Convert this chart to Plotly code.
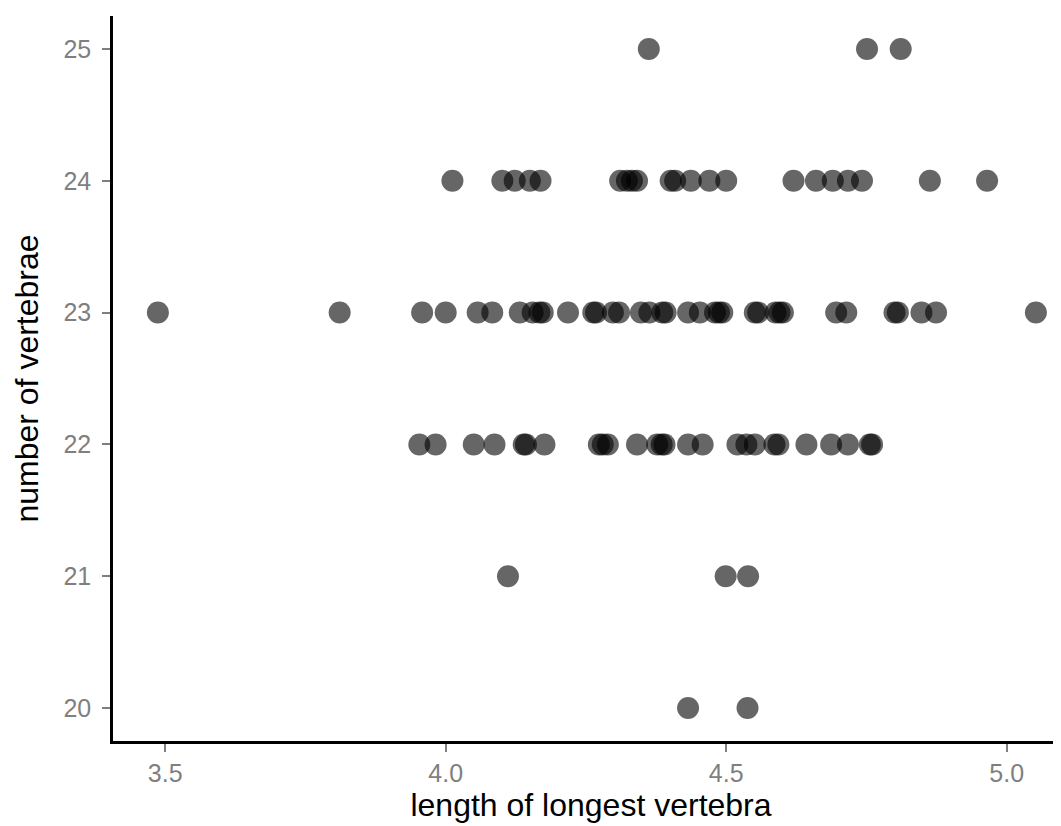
import plotly.graph_objects as go

# length of longest vertebra, grouped by number of vertebrae
len_25 = [4.362, 4.751, 4.811]
len_24 = [4.012, 4.101, 4.123, 4.150, 4.169, 4.311, 4.323, 4.332, 4.341,
          4.401, 4.409, 4.437, 4.470, 4.500, 4.620, 4.660, 4.690, 4.717,
          4.742, 4.863, 4.965]
len_23 = [3.487, 3.811, 3.958, 4.000, 4.057, 4.083, 4.132, 4.155, 4.167,
          4.173, 4.218, 4.263, 4.268, 4.298, 4.309, 4.348, 4.363, 4.386,
          4.392, 4.432, 4.453, 4.480, 4.487, 4.493, 4.551, 4.557, 4.588,
          4.595, 4.601, 4.696, 4.714, 4.800, 4.806, 4.848, 4.874, 5.052]
len_22 = [3.953, 3.982, 4.050, 4.087, 4.139, 4.143, 4.176, 4.273, 4.280,
          4.289, 4.341, 4.377, 4.385, 4.390, 4.432, 4.458, 4.520, 4.536,
          4.551, 4.586, 4.593, 4.643, 4.687, 4.717, 4.756, 4.760]
len_21 = [4.111, 4.499, 4.539]
len_20 = [4.432, 4.538]

groups = {25: len_25, 24: len_24, 23: len_23, 22: len_22, 21: len_21, 20: len_20}

x_vals, y_vals = [], []
for n, lens in groups.items():
    x_vals += lens
    y_vals += [n] * len(lens)

x_ticks = [3.5, 4.0, 4.5, 5.0]
x_tick_text = ["3.5", "4.0", "4.5", "5.0"]
y_ticks = [20, 21, 22, 23, 24, 25]

fig = go.Figure(go.Scatter(
    x=x_vals, y=y_vals, mode="markers",
    marker=dict(size=22, color="black", opacity=0.6, line=dict(width=0)),
    hoverinfo="x+y",
))

fig.update_layout(
    width=1061, height=826,
    margin=dict(l=105, r=0, t=8, b=93),
    paper_bgcolor="white", plot_bgcolor="white",
    showlegend=False,
    font=dict(family="Liberation Sans, Arial, sans-serif", color="black"),
    xaxis=dict(
        range=[3.407, 5.111], tickvals=x_ticks, ticktext=x_tick_text,
        showgrid=False, zeroline=False,
        showline=True, linecolor="black", linewidth=2.5,
        ticks="outside", ticklen=8, tickwidth=2, tickcolor="#7f7f7f",
        tickfont=dict(size=25, color="#7f7f7f"),
        title=dict(text="length of longest vertebra", font=dict(size=32, color="black"), standoff=6),
        automargin=False,
    ),
    yaxis=dict(
        range=[19.75, 25.25], tickvals=y_ticks,
        showgrid=False, zeroline=False,
        showline=True, linecolor="black", linewidth=2.5,
        ticks="outside", ticklen=8, tickwidth=2, tickcolor="#7f7f7f",
        tickfont=dict(size=25, color="#7f7f7f"),
        ticklabelstandoff=6,
        title=dict(text="number of vertebrae", font=dict(size=32, color="black"), standoff=16),
        automargin=False,
    ),
)

fig.write_html("out.html")
